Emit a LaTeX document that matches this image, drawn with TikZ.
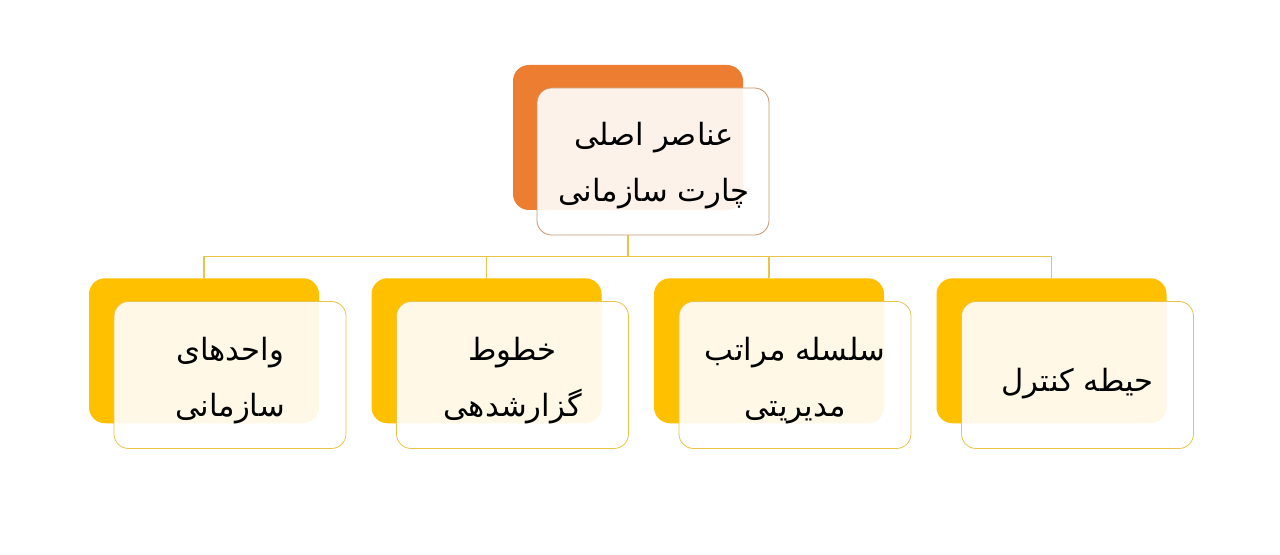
\documentclass[tikz,border=0pt]{standalone}
\usepackage{fontspec}
\newfontfamily\arabicfont[Script=Arabic]{DejaVu Sans}
\TeXXeTstate=1
\definecolor{orangeback}{HTML}{ED7D31}
\definecolor{yellowback}{HTML}{FFC000}
\definecolor{tanline}{HTML}{C9956C}
\definecolor{yelline}{HTML}{E8C44A}
\tikzset{
  backbox/.style={rounded corners=12pt, minimum width=172.5pt, minimum height=108.75pt, inner sep=0pt, draw=none},
  frontbox/.style={rounded corners=11pt, minimum width=174pt, minimum height=110.25pt, inner sep=0pt, fill=white, fill opacity=0.9, line width=0.6pt},
  label/.style={inner sep=0pt, font=\arabicfont\fontsize{23}{42}\selectfont, align=center},
  conn/.style={draw=yelline, line width=0.8pt}
}
\begin{document}
\begin{tikzpicture}[x=0.75pt,y=-0.75pt]
\useasboundingbox (0,0) rectangle (1280,555);
\fill[white] (0,0) rectangle (1280,555);
% connector junction
\coordinate (j) at (628,256.5);
% top
\node[backbox, fill=orangeback] (tb) at (628,137.5) {};
\node[frontbox, draw=tanline] (tf) at (653,161.5) {};
\node[label] (tt) at (654,166) {\beginR عناصر اصلی\endR\\\beginR چارت سازمانی\endR};
% bottom back box positions (coordinates first, for connectors)
\coordinate (c1) at (204,278);
\coordinate (c2) at (486.5,278);
\coordinate (c3) at (769,278);
\coordinate (c4) at (1051.5,278);
\draw[conn] (tf.south -| tb) -- (j);
\draw[conn] (c1 |- j) -- (c4 |- j);
\draw[conn] (c1 |- j) -- (c1);
\draw[conn] (c2 |- j) -- (c2);
\draw[conn] (c3 |- j) -- (c3);
\draw[conn] (c4 |- j) -- (c4);
% bottom back boxes
\node[backbox, fill=yellowback, anchor=north] (b1) at (c1) {};
\node[backbox, fill=yellowback, anchor=north] (b2) at (c2) {};
\node[backbox, fill=yellowback, anchor=north] (b3) at (c3) {};
\node[backbox, fill=yellowback, anchor=north] (b4) at (c4) {};
% front boxes
\node[frontbox, draw=yelline] (f1) at (230,375) {};
\node[frontbox, draw=yelline] (f2) at (512.5,375) {};
\node[frontbox, draw=yelline] (f3) at (795,375) {};
\node[frontbox, draw=yelline] (f4) at (1077.5,375) {};
\node[label] (t1) at (230,381) {\beginR واحدهای\endR\\\beginR سازمانی\endR};
\node[label] (t2) at (512.5,381) {\beginR خطوط\endR\\\beginR گزارشدهی\endR};
\node[label] (t3) at (795,381) {\beginR سلسله مراتب\endR\\\beginR مدیریتی\endR};
\node[label] (t4) at (1077.5,384) {\beginR حیطه کنترل\endR};
\end{tikzpicture}
\end{document}
